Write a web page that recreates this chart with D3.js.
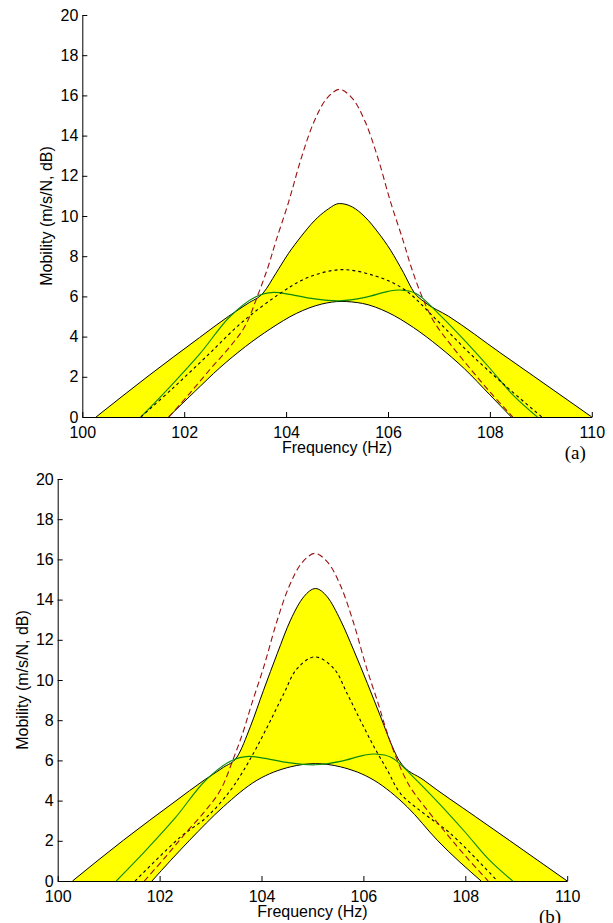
<!DOCTYPE html>
<html>
<head>
<meta charset="utf-8">
<script src="https://d3js.org/d3.v7.min.js"></script>
<style>
  html, body { margin: 0; padding: 0; background: #fff; }
  svg { display: block; }
  .tick text { font-family: "Liberation Sans", Arial, Helvetica, sans-serif; font-size: 16px; fill: #000; }
  .tick line, .domain { stroke: #000; stroke-width: 1; }
  .axis-label { font-family: "Liberation Sans", Arial, Helvetica, sans-serif; font-size: 16px; fill: #000; }
  .panel-tag { font-family: "Liberation Serif", "Times New Roman", serif; font-size: 19px; fill: #000; }
</style>
</head>
<body>
<svg id="chart" width="613" height="923"></svg>
<script>
// Axis ticks
const xTicks = [100, 102, 104, 106, 108, 110];
const yTicks = [0, 2, 4, 6, 8, 10, 12, 14, 16, 18, 20];

// Curves common to both panels
const greenFreq = [101.15, 101.72, 102.31, 102.9, 103.42, 103.75, 104.07, 104.5, 105.05, 105.55, 106.0, 106.23, 106.55, 106.98, 107.47, 107.99, 108.45, 108.93];
const greenVals = [0, 1.5, 3.15, 5.0, 6.0, 6.2, 6.1, 5.9, 5.78, 5.95, 6.25, 6.32, 6.15, 5.17, 3.9, 2.45, 1.1, 0];

const redFreq = [101.7, 102.1, 102.5, 102.9, 103.2, 103.45, 103.65, 103.8, 104.05, 104.3, 104.55, 104.8, 105.05, 105.3, 105.55, 105.8, 106.05, 106.3, 106.45, 106.65, 106.9, 107.2, 107.6, 108.0, 108.45];
const redVals = [0, 1.15, 2.35, 3.5, 4.55, 6.1, 7.5, 8.75, 10.7, 12.9, 14.7, 15.85, 16.3, 15.85, 14.7, 12.9, 10.7, 8.75, 7.5, 6.1, 4.75, 3.7, 2.45, 1.25, 0];

// Panel (a)
const upperAFreq = [100.27, 101.29, 102.3, 102.87, 103.25, 103.55, 103.8, 104.05, 104.3, 104.55, 104.8, 105.05, 105.3, 105.55, 105.8, 106.05, 106.3, 106.52, 106.7, 107.19, 108.2, 108.86, 110.0];
const upperAVals = [0, 2.03, 3.95, 5.01, 5.65, 6.17, 7.15, 8.15, 9.0, 9.75, 10.3, 10.62, 10.45, 9.95, 9.2, 8.3, 7.2, 6.17, 5.75, 5.01, 3.2, 2.03, 0];
const lowerAFreq = [101.69, 102.2, 102.7, 103.2, 103.7, 104.2, 104.7, 105.08, 105.5, 106.0, 106.5, 107.0, 107.5, 108.0, 108.42];
const lowerAVals = [0, 1.25, 2.45, 3.5, 4.4, 5.15, 5.62, 5.75, 5.65, 5.2, 4.45, 3.5, 2.4, 1.1, 0];
const meanAFreq = [101.15, 101.78, 102.44, 103.12, 103.85, 104.4, 105.08, 105.77, 106.33, 106.95, 107.6, 108.32, 109.02];
const meanAVals = [0, 1.44, 3.02, 4.68, 6.09, 6.91, 7.33, 7.0, 6.33, 4.84, 3.18, 1.52, 0];

// Panel (b)
const upperBFreq = [100.29, 101.29, 102.3, 102.87, 103.25, 103.52, 103.78, 104.04, 104.31, 104.57, 104.83, 105.06, 105.29, 105.55, 105.81, 106.08, 106.34, 106.6, 106.7, 107.19, 108.2, 108.86, 110.0];
const upperBVals = [0, 2.03, 3.95, 5.01, 5.65, 6.17, 7.67, 9.49, 11.32, 12.98, 14.14, 14.55, 14.14, 12.98, 11.48, 9.82, 8.16, 6.5, 6.0, 5.01, 3.2, 2.03, 0];
const lowerBFreq = [101.85, 102.59, 103.25, 103.91, 104.57, 105.06, 105.55, 106.21, 106.86, 107.45, 108.31];
const lowerBVals = [0, 2.03, 3.69, 5.01, 5.68, 5.84, 5.68, 5.01, 3.69, 2.03, 0];
const meanBFreq = [101.52, 102.41, 102.93, 103.39, 103.65, 103.91, 104.18, 104.44, 104.7, 105.05, 105.42, 105.68, 105.94, 106.21, 106.47, 106.73, 107.19, 107.71, 108.63];
const meanBVals = [0, 2.19, 3.19, 4.51, 5.51, 6.67, 8.0, 9.33, 10.57, 11.15, 10.57, 9.33, 8.0, 6.67, 5.51, 4.35, 3.35, 2.36, 0];

const zip = (f, v) => f.map((x, i) => [x, v[i]]);

const svg = d3.select("#chart");

const panels = [
  { id: "a", left: 82.3, top: 15, tag: "(a)",
    upper: zip(upperAFreq, upperAVals), lower: zip(lowerAFreq, lowerAVals),
    mean: zip(meanAFreq, meanAVals) },
  { id: "b", left: 57.7, top: 479, tag: "(b)",
    upper: zip(upperBFreq, upperBVals), lower: zip(lowerBFreq, lowerBVals),
    mean: zip(meanBFreq, meanBVals) }
];
const plotW = 509.5, plotH = 402;

panels.forEach(p => {
  const x = d3.scaleLinear().domain([100, 110]).range([p.left, p.left + plotW]);
  const y = d3.scaleLinear().domain([0, 20]).range([p.top + plotH, p.top]);

  const g = svg.append("g");
  const clipId = "clip-" + p.id;
  g.append("clipPath").attr("id", clipId)
    .append("rect").attr("x", x(100)).attr("y", y(20))
    .attr("width", x(110) - x(100)).attr("height", y(0) - y(20));

  // Envelopes keep their corners; the other curves are drawn smooth
  const edge = d3.line().x(d => x(d[0])).y(d => y(d[1])).curve(d3.curveMonotoneX);
  const smooth = d3.line().x(d => x(d[0])).y(d => y(d[1])).curve(d3.curveCatmullRom.alpha(0.5));
  const plot = g.append("g").attr("clip-path", `url(#${clipId})`);

  // Band between upper and lower envelopes, closed along the zero line
  const upperPath = edge(p.upper);
  const lowerRev = edge(p.lower.slice().reverse());
  const bandPath = upperPath +
    "L" + x(p.lower[p.lower.length - 1][0]) + "," + y(0) +
    lowerRev.replace(/^M/, "L") +
    "L" + x(p.upper[0][0]) + "," + y(0) + "Z";
  plot.append("path").attr("d", bandPath).attr("fill", "#ffff00").attr("stroke", "none");

  plot.append("path").attr("d", upperPath).attr("fill", "none")
    .attr("stroke", "#000").attr("stroke-width", 1);
  plot.append("path").attr("d", edge(p.lower)).attr("fill", "none")
    .attr("stroke", "#000").attr("stroke-width", 1);

  plot.append("path").attr("d", smooth(zip(greenFreq, greenVals))).attr("fill", "none")
    .attr("stroke", "#0b8a0b").attr("stroke-width", 1.1);
  plot.append("path").attr("d", smooth(p.mean)).attr("fill", "none")
    .attr("stroke", "#000").attr("stroke-width", 1.1).attr("stroke-dasharray", "3,3");
  plot.append("path").attr("d", smooth(zip(redFreq, redVals))).attr("fill", "none")
    .attr("stroke", "#9a1010").attr("stroke-width", 1.1).attr("stroke-dasharray", "6,3.5");

  // Axes with inward ticks
  const xAxis = d3.axisBottom(x).tickValues(xTicks).tickSizeInner(-5).tickSizeOuter(0).tickPadding(10)
    .tickFormat(d3.format("d"));
  const yAxis = d3.axisLeft(y).tickValues(yTicks).tickSizeInner(-5).tickSizeOuter(0).tickPadding(4)
    .tickFormat(d3.format("d"));
  g.append("g").attr("transform", `translate(0,${y(0)})`).call(xAxis);
  g.append("g").attr("transform", `translate(${x(100)},0)`).call(yAxis);

  g.append("text").attr("class", "axis-label")
    .attr("x", (x(100) + x(110)) / 2).attr("y", y(0) + 36)
    .attr("text-anchor", "middle").text("Frequency (Hz)");
  g.append("text").attr("class", "axis-label")
    .attr("transform", `translate(${x(100) - 30},${(y(0) + y(20)) / 2}) rotate(-90)`)
    .attr("text-anchor", "middle").text("Mobility (m/s/N, dB)");
  g.append("text").attr("class", "panel-tag")
    .attr("x", x(110) - 6).attr("y", y(0) + 42)
    .attr("text-anchor", "end").text(p.tag);
});
</script>
</body>
</html>
